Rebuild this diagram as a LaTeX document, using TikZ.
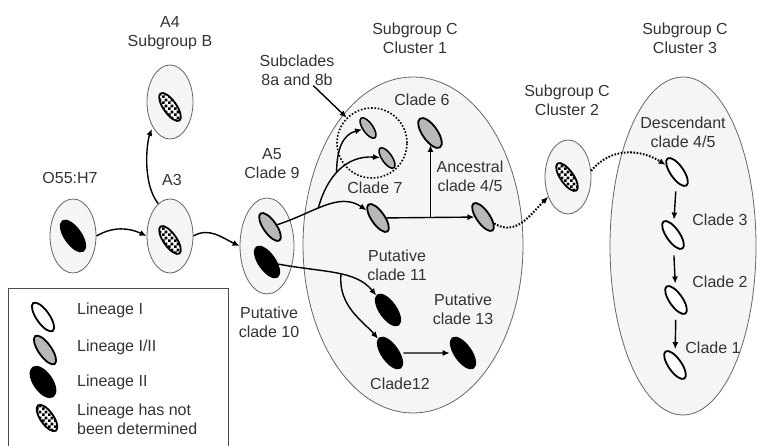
\documentclass[tikz,border=0pt]{standalone}
\usepackage{fontspec}
\setmainfont{Liberation Sans}
\usetikzlibrary{positioning,shapes.geometric,arrows.meta,patterns}

\pgfdeclarepatternformonly{cladechk}{\pgfpointorigin}{\pgfqpoint{6pt}{6pt}}{\pgfqpoint{6pt}{6pt}}{%
  \pgfpathrectangle{\pgfpointorigin}{\pgfqpoint{3pt}{3pt}}%
  \pgfpathrectangle{\pgfqpoint{3pt}{3pt}}{\pgfqpoint{3pt}{3pt}}%
  \pgfusepath{fill}}

\tikzset{
  grp/.style = {ellipse, draw=black!60, fill=black!4, line width=0.8pt, inner sep=0pt},
  smallgrp/.style = {grp, minimum width=46pt, minimum height=74pt},
  clade/.style = {ellipse, draw=black, line width=1.8pt, inner sep=0pt,
                  minimum width=33pt, minimum height=13pt, rotate=-55},
  lin1/.style = {clade, fill=white},
  lin12/.style = {clade, fill=black!28},
  lin2/.style = {clade, fill=black, minimum width=36pt, minimum height=16pt},
  linx/.style = {clade, preaction={fill=white}, pattern=cladechk, pattern color=black},
  subcl/.style = {lin12, minimum width=24pt, minimum height=10pt, line width=1.5pt},
  lbl/.style = {align=center, inner sep=0pt, text=black!80,
                font=\fontsize{16}{19}\selectfont},
  arr/.style = {-{Latex[length=7pt,width=6pt]}, line width=1.4pt},
  dotarr/.style = {arr, line width=2pt, dash pattern=on 1.6pt off 1.6pt},
  downarr/.style = {arr, shorten <=9pt, shorten >=5pt}
}

\begin{document}
\begin{tikzpicture}[x=1pt, y=1pt]
  \useasboundingbox (0,0) rectangle (757,446);

  \node[smallgrp] (o55) at (73,210) {};
  \node[smallgrp] (a3) at (170,210) {};
  \node[smallgrp] (a4) at (170,344) {};
  \node[grp, minimum width=54pt, minimum height=96pt] (a5) at (267,200) {};
  \node[grp, minimum width=220pt, minimum height=336pt] (cl1) at (413,201) {};
  \node[smallgrp] (cl2) at (568,269) {};
  \node[grp, minimum width=146pt, minimum height=338pt] (cl3) at (683,200) {};

  \node[lin2] (o55b) at (73,210) {};
  \node[linx] (a3x) at (170,206) {};
  \node[linx] (a4x) at (170,339) {};
  \node[lin12] (a5g) at (270,219) {};
  \node[lin2] (a5b) at (267,184) {};
  \node[linx] (cl2x) at (567,269) {};

  \node[draw, circle, minimum size=70pt, inner sep=0pt, line width=1.6pt,
        dash pattern=on 1.6pt off 1.8pt] (sub8) at (372,303) {};
  \node[subcl] (c8a) at (368,318) {};
  \node[subcl] (c8b) at (387,288) {};
  \node[lin12, minimum width=35pt, minimum height=15pt] (c6) at (430,313) {};
  \node[lin12] (c7) at (378,228) {};
  \node[lin12] (anc) at (483,229) {};
  \node[lin2] (c11) at (388,136) {};
  \node[lin2] (c12) at (390,93) {};
  \node[lin2] (c13) at (463,93) {};

  \node[lin1] (desc) at (677,274) {};
  \node[lin1] (c3) at (673,211) {};
  \node[lin1] (c2) at (676,146) {};
  \node[lin1] (c1) at (675,81) {};

  \node[lbl] (lo55) at (70,268) {O55:H7};
  \node[lbl] (la3) at (172,266) {A3};
  \node[lbl] (la4) at (170,413) {A4\\Subgroup B};
  \node[lbl] (la5) at (272,282) {A5\\Clade 9};
  \node[lbl] (lc10) at (269,124) {Putative\\clade 10};
  \node[lbl] (lcl1) at (415,408) {Subgroup C\\Cluster 1};
  \node[lbl] (lsub) at (297,376) {Subclades\\8a and 8b};
  \node[lbl] (lc6) at (422,346) {Clade 6};
  \node[lbl] (lc7) at (375,258) {Clade 7};
  \node[lbl] (lanc) at (470,270) {Ancestral\\clade 4/5};
  \node[lbl] (lc11) at (397,181) {Putative\\clade 11};
  \node[lbl] (lc13) at (463,137) {Putative\\clade 13};
  \node[lbl] (lc12) at (400,62) {Clade12};
  \node[lbl] (lcl2) at (567,346) {Subgroup C\\Cluster 2};
  \node[lbl] (lcl3) at (685,408) {Subgroup C\\Cluster 3};
  \node[lbl] (ldesc) at (683,314) {Descendant\\clade 4/5};
  \node[lbl] (lc3) at (720,226) {Clade 3};
  \node[lbl] (lc2) at (720,164) {Clade 2};
  \node[lbl] (lc1) at (713,98) {Clade 1};

  \draw[arr] (o55.east) to[out=30,in=155] (a3.west);
  \draw[arr] (a3.east) to[out=30,in=155] (a5.west);
  \draw[arr, shorten >=2pt] (a3.110) .. controls +(-16,20) and +(-6,-16) .. (a4.235);

  \draw[arr] (a5g) to[out=30,in=160] coordinate[pos=0.42] (b1) (c7);
  \draw[arr] (b1) to[out=75,in=190] coordinate[pos=0.45] (b2) (c8b);
  \draw[arr] (b2) to[out=90,in=210] (c8a);
  \draw[arr] (lsub) -- (sub8.135);
  \draw[arr] (c7) -- coordinate[pos=0.5] (b3) (anc);
  \draw[arr, shorten >=12pt] (b3) -- (b3 |- c6);

  \draw[arr] (a5b) to[out=5,in=140] coordinate[pos=0.55] (b4) (c11);
  \draw[arr] (b4) to[out=-95,in=145] (c12);
  \draw[arr, shorten <=3pt, shorten >=3pt] (c12) -- (c13);

  \draw[dotarr] (anc) to[out=-10,in=225] (cl2);
  \draw[dotarr] (cl2.15) to[out=50,in=165] (desc);

  \draw[downarr] (desc) -- (c3);
  \draw[downarr] (c3) -- (c2);
  \draw[downarr] (c2) -- (c1);

  \node[draw=black!70, line width=1.2pt, minimum width=220pt, minimum height=170pt,
        anchor=north west] (key) at (8,158) {};
  \node[lin1, minimum width=34pt, minimum height=13pt] (k1) at (43,129) {};
  \node[lin12, minimum width=34pt, minimum height=13pt] (k12) at (45,96) {};
  \node[lin2, minimum width=35pt, minimum height=18pt] (k2) at (43,64) {};
  \node[linx, minimum width=31pt, minimum height=13pt] (kx) at (47,28) {};
  \node[lbl, anchor=west] (tk1) at (77,136) {Lineage I};
  \node[lbl, anchor=west] (tk12) at (77,99) {Lineage I/II};
  \node[lbl, anchor=west] (tk2) at (77,64) {Lineage II};
  \node[lbl, anchor=west, align=left] (tkx) at (77,27) {Lineage has not\\been determined};
\end{tikzpicture}
\end{document}
